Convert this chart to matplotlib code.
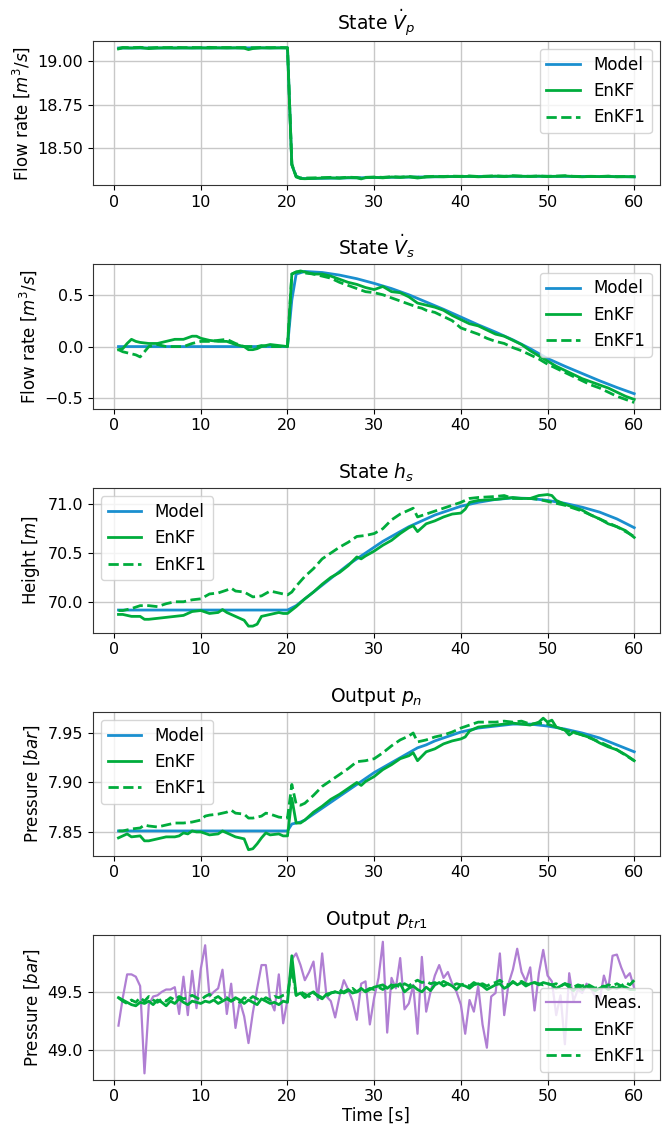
import numpy as np
import matplotlib
matplotlib.use("Agg")
import matplotlib.pyplot as plt

# ---------------------------------------------------------------- colours
C_MODEL = "#1a8fcf"
C_ENKF = "#00ac3c"
C_MEAS = "#b07fd3"

# ---------------------------------------------------------------- time grids
t_half = np.arange(1, 121) * 0.5          # 0.5 ... 60 s

# ---------------------------------------------------------------- State Vp
vp_model_t = [0.5, 20.0, 20.5, 21.0, 21.5, 22.0, 25.0, 30.0, 35.0, 40.0, 45.0, 50.0, 55.0, 60.0]
vp_model = [19.077, 19.078, 18.405, 18.34, 18.328, 18.326, 18.328, 18.332, 18.335, 18.338,
            18.339, 18.339, 18.338, 18.336]
vp_enkf_t = [0.5, 1, 2, 3, 4, 5, 6, 7, 8, 9, 10, 11, 12, 13, 14, 15, 15.5, 16, 17, 18, 19, 20,
             20.5, 21, 21.5, 22, 23, 24, 25, 26, 27, 28, 28.5, 29, 30, 31, 32, 33, 34, 35, 36,
             37, 38, 39, 40, 41, 42, 43, 44, 45, 46, 47, 48, 49, 50, 51, 52, 53, 54, 55, 56,
             57, 58, 59, 60]
vp_enkf = [19.072, 19.078, 19.077, 19.079, 19.074, 19.077, 19.078, 19.077, 19.078, 19.077,
           19.078, 19.077, 19.078, 19.077, 19.078, 19.076, 19.068, 19.074, 19.078, 19.077,
           19.078, 19.077, 18.405, 18.335, 18.326, 18.325, 18.327, 18.329, 18.330, 18.328,
           18.332, 18.330, 18.324, 18.331, 18.333, 18.330, 18.335, 18.333, 18.336, 18.329,
           18.335, 18.337, 18.336, 18.338, 18.337, 18.339, 18.336, 18.338, 18.340, 18.337,
           18.341, 18.339, 18.338, 18.340, 18.337, 18.339, 18.341, 18.338, 18.336, 18.338,
           18.337, 18.339, 18.336, 18.337, 18.336]
vp_enkf1 = [19.075, 19.080, 19.079, 19.081, 19.078, 19.080, 19.079, 19.081, 19.079, 19.080,
            19.079, 19.081, 19.079, 19.080, 19.079, 19.080, 19.078, 19.079, 19.080, 19.079,
            19.080, 19.079, 18.410, 18.338, 18.330, 18.329, 18.330, 18.331, 18.333, 18.330,
            18.334, 18.332, 18.328, 18.333, 18.335, 18.333, 18.337, 18.334, 18.338, 18.333,
            18.337, 18.339, 18.338, 18.340, 18.339, 18.341, 18.338, 18.340, 18.342, 18.339,
            18.342, 18.340, 18.339, 18.341, 18.339, 18.340, 18.342, 18.339, 18.338, 18.339,
            18.338, 18.340, 18.337, 18.338, 18.337]

# ---------------------------------------------------------------- State Vs
vs_model_t = [0.5, 20.0, 20.5, 21.0, 22.0, 24.0, 26.0, 28.0, 30.0, 32.0, 34.0, 36.0, 38.0, 40.0,
              42.0, 44.0, 46.0, 48.0, 50.0, 52.0, 54.0, 56.0, 58.0, 60.0]
vs_model = [0.0, 0.0, 0.45, 0.70, 0.725, 0.715, 0.69, 0.655, 0.61, 0.56, 0.50, 0.43, 0.36,
            0.285, 0.21, 0.14, 0.065, -0.02, -0.115, -0.19, -0.26, -0.33, -0.395, -0.455]
vs_enkf_t = [0.5, 1, 1.5, 2, 2.5, 3, 4, 5, 6, 7, 8, 9, 9.5, 10, 11, 12, 13, 14, 15, 15.5, 16,
             16.5, 17, 18, 19, 20, 20.5, 21, 21.5, 22, 23, 24, 25, 26, 27, 28, 29, 30, 31,
             32, 33, 34, 35, 35.5, 36, 37, 38, 39, 40, 41, 42, 43, 44, 45, 46, 47, 48, 49,
             50, 51, 52, 53, 54, 55, 56, 57, 58, 59, 60]
vs_enkf = [-0.03, -0.02, 0.03, 0.07, 0.05, 0.04, 0.03, 0.03, 0.05, 0.07, 0.07, 0.10, 0.10,
           0.08, 0.06, 0.05, 0.05, 0.02, 0.00, -0.03, -0.03, -0.02, 0.00, 0.02, 0.01, 0.00,
           0.70, 0.72, 0.73, 0.72, 0.70, 0.70, 0.68, 0.65, 0.62, 0.60, 0.57, 0.55, 0.58,
           0.53, 0.52, 0.48, 0.42, 0.41, 0.40, 0.38, 0.35, 0.30, 0.26, 0.22, 0.20, 0.16,
           0.12, 0.10, 0.06, 0.02, -0.04, -0.09, -0.14, -0.19, -0.23, -0.27, -0.31, -0.34,
           -0.37, -0.40, -0.44, -0.48, -0.51]
vs_enkf1 = [-0.03, -0.05, -0.06, -0.07, -0.08, -0.10, 0.00, 0.02, 0.00, 0.00, 0.00, 0.03,
            0.04, 0.05, 0.05, 0.06, 0.07, 0.03, 0.00, 0.00, 0.00, 0.00, 0.01, 0.00, 0.00,
            0.00, 0.70, 0.72, 0.72, 0.71, 0.70, 0.68, 0.66, 0.62, 0.59, 0.56, 0.53, 0.52,
            0.50, 0.47, 0.44, 0.41, 0.38, 0.37, 0.35, 0.33, 0.29, 0.25, 0.18, 0.15, 0.12,
            0.08, 0.05, 0.03, -0.01, -0.04, -0.08, -0.12, -0.17, -0.21, -0.25, -0.29, -0.33,
            -0.37, -0.40, -0.44, -0.48, -0.51, -0.54]

# ---------------------------------------------------------------- State hs
hs_model_t = [0.5, 20.0, 21, 22, 23, 24, 25, 26, 27, 28, 29, 30, 31, 32, 33, 34, 35, 36, 37,
              38, 39, 40, 42, 44, 46, 48, 50, 52, 54, 56, 58, 60]
hs_model = [69.915, 69.915, 69.96, 70.03, 70.10, 70.17, 70.24, 70.31, 70.38, 70.44, 70.50,
            70.56, 70.62, 70.67, 70.72, 70.77, 70.81, 70.85, 70.89, 70.92, 70.95, 70.98,
            71.02, 71.05, 71.065, 71.06, 71.04, 71.01, 70.97, 70.92, 70.85, 70.76]
hs_enkf_t = [0.5, 1, 2, 3, 3.5, 4, 5, 6, 7, 8, 9, 10, 11, 12, 12.5, 13, 14, 15, 15.5, 16,
             16.5, 17, 18, 19, 19.5, 20, 21, 22, 23, 24, 25, 26, 27, 28, 28.5, 29, 30, 31,
             32, 33, 34, 34.5, 35, 36, 37, 38, 39, 40, 40.5, 41, 42, 44, 46, 47, 48, 49, 50,
             50.5, 51, 52, 53, 54, 55, 56, 57, 58, 59, 60]
hs_enkf = [69.87, 69.87, 69.85, 69.85, 69.82, 69.82, 69.83, 69.84, 69.85, 69.86, 69.90,
           69.91, 69.88, 69.89, 69.92, 69.89, 69.85, 69.81, 69.75, 69.75, 69.77, 69.85,
           69.87, 69.89, 69.88, 69.88, 69.95, 70.03, 70.10, 70.18, 70.25, 70.30, 70.37,
           70.46, 70.44, 70.47, 70.52, 70.58, 70.63, 70.70, 70.76, 70.78, 70.72, 70.80,
           70.83, 70.87, 70.90, 70.91, 70.95, 71.02, 71.04, 71.05, 71.07, 71.06, 71.06,
           71.09, 71.10, 71.09, 71.04, 71.00, 70.97, 70.94, 70.89, 70.85, 70.80, 70.77,
           70.73, 70.66]
hs_enkf1_t = [0.5, 1, 2, 3, 4, 5, 6, 7, 8, 9, 10, 11, 12, 13, 13.5, 14, 15, 16, 17, 18, 19,
              20, 20.5, 21, 22, 23, 24, 25, 26, 27, 28, 29, 30, 31, 32, 33, 34, 34.5, 35,
              36, 37, 38, 39, 40, 41, 42, 44, 45, 46, 48, 49, 50, 52, 54, 56, 58, 60]
hs_enkf1 = [69.91, 69.91, 69.93, 69.96, 69.96, 69.95, 69.98, 70.00, 70.00, 70.02, 70.03,
            70.08, 70.09, 70.12, 70.14, 70.11, 70.10, 70.05, 70.06, 70.11, 70.09, 70.07,
            70.10, 70.16, 70.26, 70.34, 70.44, 70.50, 70.56, 70.61, 70.67, 70.68, 70.70,
            70.75, 70.84, 70.90, 70.94, 70.96, 70.87, 70.90, 70.93, 70.96, 70.99, 71.02,
            71.06, 71.07, 71.08, 71.09, 71.06, 71.06, 71.05, 71.03, 70.99, 70.93, 70.85,
            70.77, 70.67]

# ---------------------------------------------------------------- Output pn
pn_model_t = [0.5, 20.0, 20.5, 21.5, 22, 23, 24, 25, 26, 27, 28, 29, 30, 31, 32, 33, 34, 35,
              36, 37, 38, 39, 40, 42, 44, 46, 48, 50, 52, 54, 56, 58, 60]
pn_model = [7.851, 7.851, 7.858, 7.860, 7.862, 7.868, 7.874, 7.880, 7.886, 7.892, 7.898,
            7.904, 7.910, 7.915, 7.920, 7.925, 7.930, 7.935, 7.938, 7.942, 7.945, 7.948,
            7.951, 7.955, 7.957, 7.959, 7.959, 7.957, 7.954, 7.950, 7.945, 7.938, 7.931]
pn_enkf_t = [0.5, 1, 1.5, 2, 3, 3.5, 4, 5, 6, 7, 7.5, 8, 8.5, 9, 9.5, 10, 11, 12, 12.5, 13,
             14, 15, 15.5, 16, 16.5, 17, 17.5, 18, 19, 19.5, 20, 20.5, 21, 21.5, 22, 23, 24,
             25, 26, 27, 28, 28.5, 29, 30, 31, 32, 33, 34, 34.5, 35, 36, 37, 38, 39, 40,
             40.5, 41, 42, 43, 44, 46, 47, 48, 49, 49.5, 50, 50.5, 51, 52, 52.5, 53, 54, 55,
             56, 57, 58, 59, 60]
pn_enkf = [7.844, 7.846, 7.848, 7.845, 7.846, 7.841, 7.841, 7.843, 7.845, 7.845, 7.846,
           7.849, 7.848, 7.851, 7.850, 7.850, 7.847, 7.848, 7.851, 7.849, 7.845, 7.843,
           7.832, 7.833, 7.838, 7.844, 7.849, 7.847, 7.848, 7.846, 7.846, 7.884, 7.859,
           7.859, 7.862, 7.870, 7.876, 7.883, 7.888, 7.894, 7.900, 7.897, 7.901, 7.906,
           7.913, 7.918, 7.924, 7.927, 7.930, 7.922, 7.931, 7.934, 7.939, 7.942, 7.944,
           7.946, 7.952, 7.956, 7.957, 7.958, 7.960, 7.959, 7.958, 7.961, 7.965, 7.961,
           7.963, 7.956, 7.953, 7.948, 7.951, 7.948, 7.945, 7.940, 7.936, 7.933, 7.928,
           7.922]
pn_enkf1_t = [0.5, 1, 2, 3, 3.5, 4, 5, 6, 7, 8, 9, 10, 10.5, 11, 12, 13, 13.5, 14, 15, 15.5,
              16, 17, 17.5, 18, 19, 20, 20.5, 21, 21.5, 22, 23, 24, 25, 26, 27, 28, 29, 30,
              31, 32, 33, 34, 34.5, 35, 36, 37, 38, 39, 40, 41, 42, 44, 45, 46, 47, 48, 49,
              50, 51, 52, 54, 56, 58, 60]
pn_enkf1 = [7.851, 7.851, 7.853, 7.854, 7.857, 7.856, 7.855, 7.857, 7.859, 7.859, 7.860,
            7.862, 7.866, 7.867, 7.868, 7.870, 7.872, 7.869, 7.868, 7.864, 7.864, 7.866,
            7.869, 7.868, 7.865, 7.864, 7.898, 7.878, 7.877, 7.879, 7.887, 7.896, 7.902,
            7.908, 7.914, 7.921, 7.922, 7.924, 7.930, 7.937, 7.943, 7.947, 7.950, 7.941,
            7.943, 7.946, 7.948, 7.951, 7.955, 7.958, 7.961, 7.961, 7.962, 7.961, 7.962,
            7.959, 7.960, 7.959, 7.956, 7.953, 7.948, 7.941, 7.933, 7.922]

# ---------------------------------------------------------------- Output ptr1 (0.5 s samples)
ptr_meas = [49.21, 49.45, 49.65, 49.65, 49.63, 49.55, 48.80, 49.39, 49.46, 49.47,
            49.50, 49.52, 49.52, 49.54, 49.31, 49.63, 49.30, 49.68, 49.36, 49.70,
            49.90, 49.46, 49.50, 49.53, 49.69, 49.31, 49.57, 49.19, 49.42, 49.29,
            49.06, 49.32, 49.53, 49.73, 49.73, 49.43, 49.34, 49.65, 49.23, 49.43,
            49.78, 49.83, 49.73, 49.60, 49.67, 49.76, 49.43, 49.83, 49.46, 49.42,
            49.28, 49.46, 49.60, 49.52, 49.42, 49.26, 49.57, 49.59, 49.22, 49.45,
            49.62, 49.93, 49.15, 49.62, 49.53, 49.79, 49.35, 49.40, 49.56, 49.14,
            49.80, 49.33, 49.50, 49.64, 49.73, 49.62, 49.67, 49.57, 49.50, 49.39,
            49.14, 49.43, 49.33, 49.55, 49.22, 49.02, 49.46, 49.49, 49.83, 49.30,
            49.57, 49.69, 49.87, 49.67, 49.59, 49.71, 49.34, 49.66, 49.86, 49.64,
            49.59, 49.30, 49.47, 49.05, 49.66, 49.42, 49.52, 49.49, 49.57, 49.53,
            49.46, 49.42, 49.64, 49.52, 49.81, 49.82, 49.71, 49.62, 49.66, 49.53]
ptr_enkf = [49.45, 49.43, 49.41, 49.39, 49.38, 49.41, 49.40, 49.42, 49.39, 49.43,
            49.41, 49.38, 49.42, 49.40, 49.44, 49.41, 49.39, 49.42, 49.41, 49.40,
            49.42, 49.41, 49.43, 49.40, 49.42, 49.44, 49.42, 49.45, 49.43, 49.40,
            49.43, 49.41, 49.39, 49.44, 49.42, 49.40, 49.41, 49.39, 49.42, 49.41,
            49.81, 49.47, 49.49, 49.45, 49.48, 49.50, 49.46, 49.44, 49.48, 49.49,
            49.50, 49.49, 49.50, 49.52, 49.49, 49.50, 49.53, 49.50, 49.52, 49.54,
            49.55, 49.56, 49.53, 49.56, 49.55, 49.57, 49.50, 49.53, 49.55, 49.52,
            49.50, 49.54, 49.51, 49.56, 49.58, 49.55, 49.57, 49.55, 49.52, 49.56,
            49.55, 49.53, 49.56, 49.57, 49.55, 49.52, 49.54, 49.56, 49.57, 49.53,
            49.55, 49.59, 49.56, 49.58, 49.55, 49.57, 49.58, 49.56, 49.58, 49.57,
            49.56, 49.53, 49.55, 49.57, 49.54, 49.51, 49.55, 49.52, 49.55, 49.53,
            49.51, 49.53, 49.55, 49.52, 49.54, 49.53, 49.55, 49.54, 49.52, 49.52]
ptr_enkf1 = [49.45, 49.42, 49.40, 49.43, 49.41, 49.45, 49.42, 49.46, 49.43, 49.41,
             49.44, 49.42, 49.45, 49.43, 49.46, 49.44, 49.45, 49.47, 49.45, 49.43,
             49.46, 49.48, 49.44, 49.46, 49.43, 49.45, 49.42, 49.44, 49.41, 49.45,
             49.43, 49.46, 49.44, 49.42, 49.45, 49.43, 49.46, 49.45, 49.47, 49.48,
             49.70, 49.47, 49.50, 49.48, 49.46, 49.49, 49.47, 49.45, 49.46, 49.49,
             49.50, 49.52, 49.49, 49.51, 49.53, 49.50, 49.52, 49.51, 49.53, 49.52,
             49.54, 49.52, 49.55, 49.53, 49.56, 49.54, 49.57, 49.55, 49.58, 49.60,
             49.58, 49.59, 49.57, 49.58, 49.56, 49.59, 49.57, 49.55, 49.57, 49.56,
             49.57, 49.55, 49.58, 49.56, 49.57, 49.55, 49.57, 49.58, 49.60, 49.57,
             49.56, 49.58, 49.57, 49.59, 49.57, 49.56, 49.58, 49.57, 49.56, 49.57,
             49.56, 49.57, 49.55, 49.57, 49.56, 49.54, 49.56, 49.55, 49.57, 49.55,
             49.53, 49.55, 49.54, 49.56, 49.55, 49.57, 49.55, 49.58, 49.56, 49.60]

# ---------------------------------------------------------------- figure
plt.rcParams["font.family"] = ["DejaVu Sans"]
plt.rcParams["font.size"] = 11.5
plt.rcParams["legend.fontsize"] = 12
plt.rcParams["xtick.major.pad"] = 3.0

fig, axes = plt.subplots(5, 1, figsize=(6.62, 11.32), dpi=100)
fig.subplots_adjust(left=0.140, right=0.997, top=0.964, bottom=0.046, hspace=0.545)

LW = 2.0
XTICKS = [0, 10, 20, 30, 40, 50, 60]


def style(ax, title, ylabel, yticks, ylabels):
    ax.set_title(title, fontsize=13.5, pad=7)
    ax.set_ylabel(ylabel, fontsize=12)
    ax.set_xticks(XTICKS)
    ax.set_yticks(yticks)
    ax.set_yticklabels(ylabels)
    ax.grid(True, color="#c8c8c8", linewidth=1.0)
    ax.set_axisbelow(True)
    for s in ax.spines.values():
        s.set_color("#333333")


def three_lines(ax, mt, m, et, e, e1t, e1):
    ax.plot(mt, m, color=C_MODEL, lw=LW, label="Model")
    ax.plot(et, e, color=C_ENKF, lw=LW, label="EnKF")
    ax.plot(e1t, e1, color=C_ENKF, lw=LW, ls="--", label="EnKF1")


ax = axes[0]
three_lines(ax, vp_model_t, vp_model, vp_enkf_t, vp_enkf, vp_enkf_t, vp_enkf1)
style(ax, r"State $\dot{V}_p$", r"Flow rate [$m^3/s$]",
      [18.50, 18.75, 19.00], ["18.50", "18.75", "19.00"])
ax.legend(loc="upper right")

ax = axes[1]
three_lines(ax, vs_model_t, vs_model, vs_enkf_t, vs_enkf, vs_enkf_t, vs_enkf1)
style(ax, r"State $\dot{V}_s$", r"Flow rate [$m^3/s$]",
      [-0.5, 0.0, 0.5], ["\u22120.5", "0.0", "0.5"])
ax.legend(loc="upper right")

ax = axes[2]
three_lines(ax, hs_model_t, hs_model, hs_enkf_t, hs_enkf, hs_enkf1_t, hs_enkf1)
style(ax, r"State $h_s$", r"Height [$m$]",
      [70.0, 70.5, 71.0], ["70.0", "70.5", "71.0"])
ax.legend(loc="upper left")

ax = axes[3]
three_lines(ax, pn_model_t, pn_model, pn_enkf_t, pn_enkf, pn_enkf1_t, pn_enkf1)
style(ax, r"Output $p_n$", r"Pressure [$bar$]",
      [7.85, 7.90, 7.95], ["7.85", "7.90", "7.95"])
ax.legend(loc="upper left")

ax = axes[4]
ax.plot(t_half, ptr_meas, color=C_MEAS, lw=1.6, label="Meas.")
ax.plot(t_half, ptr_enkf, color=C_ENKF, lw=LW, label="EnKF")
ax.plot(t_half, ptr_enkf1, color=C_ENKF, lw=LW, ls="--", label="EnKF1")
style(ax, r"Output $p_{tr1}$", r"Pressure [$bar$]", [49.0, 49.5], ["49.0", "49.5"])
ax.set_xlabel("Time [s]", fontsize=12, labelpad=2)
ax.legend(loc="lower right")

fig.savefig("out.png", dpi=100)
